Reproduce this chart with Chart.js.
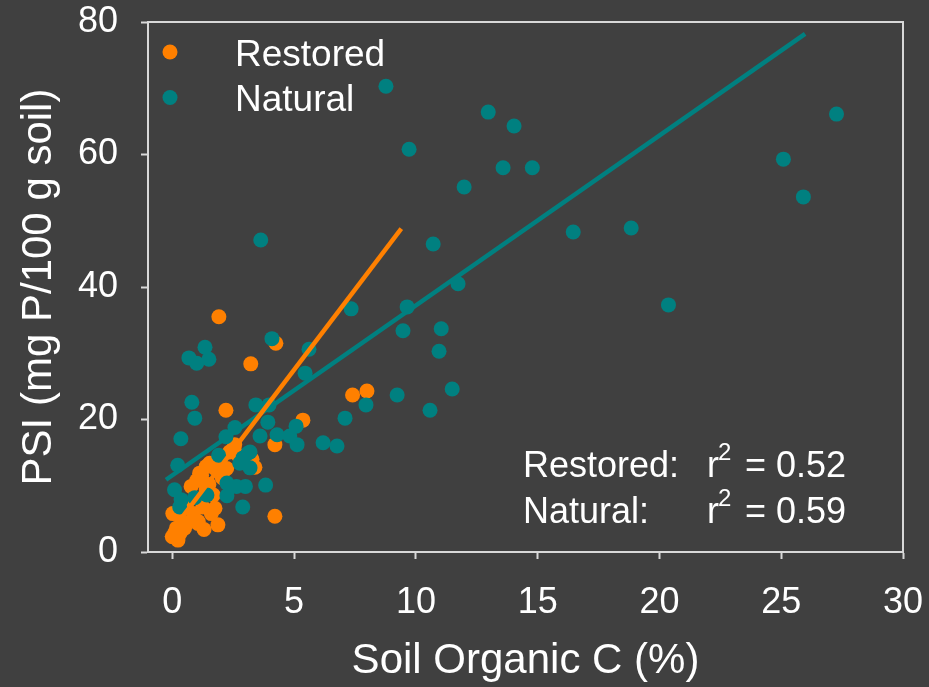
<!DOCTYPE html>
<html>
<head>
<meta charset="utf-8">
<script src="https://cdn.jsdelivr.net/npm/chart.js@4.4.1/dist/chart.umd.min.js"></script>
<style>
  html, body { margin: 0; padding: 0; background: #404040; }
  #wrap { width: 929px; height: 687px; }
</style>
</head>
<body>
<div id="wrap"><canvas id="c" width="929" height="687"></canvas></div>
<script>
// Soil organic carbon (%) vs phosphorus saturation index, natural wetlands
const naturalX = [8.77, 12.97, 14.03, 9.72, 13.58, 14.78, 11.98, 27.27, 25.09, 25.91,
  16.46, 18.84, 20.37, 10.71, 11.73, 9.64, 7.34, 9.47, 11.04, 10.95,
  11.49, 9.23, 10.58, 7.95, 7.09, 6.76, 3.63, 4.09, 1.34, 0.68,
  1.0, 1.5, 5.61, 5.45, 0.8, 0.92, 3.43, 3.97, 3.92, 5.08,
  0.35, 2.2, 2.57, 3.6, 4.3, 4.82, 5.12, 6.19, 0.22, 1.9,
  3.19, 2.77, 3.19, 2.9, 3.1, 2.24, 2.63, 3.0, 3.83, 2.24,
  2.89, 0.09, 0.36, 0.92, 1.42, 0.3];
const naturalY = [70.3, 66.4, 64.3, 60.8, 58.0, 58.0, 55.1, 66.1, 59.3, 53.6,
  48.3, 48.9, 37.3, 46.5, 40.5, 37.0, 36.7, 33.4, 33.7, 30.3,
  24.6, 23.7, 21.4, 22.2, 20.2, 16.0, 47.1, 32.2, 30.9, 29.3,
  28.5, 29.1, 30.6, 27.0, 22.6, 20.2, 22.2, 22.2, 19.6, 19.0,
  17.1, 17.4, 18.8, 17.5, 17.7, 17.5, 16.2, 16.5, 13.1, 14.6,
  15.1, 13.4, 12.7, 14.2, 14.9, 10.4, 9.9, 9.9, 10.1, 8.5,
  6.8, 9.4, 7.9, 8.2, 8.6, 6.8];

// Restored wetlands
const restoredX = [1.91, 4.25, 3.22, 2.2, 5.36, 7.4, 7.99, 4.21, 4.21, 3.39,
  3.27, 2.56, 2.35, 1.94, 1.53, 1.12, 0.77, 1.39, 1.75, 2.23,
  1.2, 1.39, 1.68, 1.75, 1.6, 1.87, 1.05, 0.86, 1.06, 0.58,
  0.5, 0.17, 0.02, 0.17, 0.31, 0.23, 0.0, 0.1, 1.0, 1.5,
  2.05, 0.55, 1.25, 0.4, 2.7, 1.3];
const restoredY = [35.5, 31.5, 28.4, 21.4, 19.9, 23.7, 24.3, 16.2, 5.4, 12.8,
  14.0, 16.2, 15.1, 13.9, 13.4, 11.9, 9.9, 12.9, 12.6, 12.6,
  11.6, 9.4, 8.6, 6.6, 5.8, 4.1, 4.3, 5.8, 4.6, 4.3,
  3.6, 5.8, 5.8, 3.6, 2.8, 1.8, 2.3, 2.9, 10.8, 10.2,
  11.2, 7.0, 6.8, 4.6, 14.6, 3.4];

// Linear fits: [intercept, slope] and the x span each line covers
const restoredFit = [3.3, 4.84];
const restoredFitSpan = [-0.25, 9.4];
const naturalFit = [11.57, 2.565];
const naturalFitSpan = [-0.26, 25.98];

const seriesNames = ['Restored', 'Natural'];
const r2Values = ['0.52', '0.59'];
const xTicks = [0, 5, 10, 15, 20, 25, 30];
const yTicks = [0, 20, 40, 60, 80];

const ORANGE = '#ff8000';
const TEAL = '#008080';
const AXIS = '#d9d9d9';
const FONT = "'Liberation Sans', Arial, Helvetica, sans-serif";

const toPoints = (xs, ys) => xs.map((x, i) => ({ x: x, y: ys[i] }));
const fitLine = (fit, span) => span.map(x => ({ x: x, y: fit[0] + fit[1] * x }));

const backdrop = {
  id: 'backdrop',
  beforeDraw(chart) {
    const ctx = chart.ctx;
    ctx.save();
    ctx.fillStyle = '#404040';
    ctx.fillRect(0, 0, chart.width, chart.height);
    ctx.restore();
  }
};

const frame = {
  id: 'frame',
  afterDraw(chart) {
    const { ctx, chartArea: a } = chart;
    ctx.save();
    ctx.strokeStyle = AXIS;
    ctx.lineWidth = 2;
    ctx.beginPath();
    ctx.moveTo(a.left, a.top);
    ctx.lineTo(a.right, a.top);
    ctx.lineTo(a.right, a.bottom);
    ctx.stroke();
    ctx.restore();
  }
};

// Legend in the upper-left corner of the plot
const cornerLegend = {
  id: 'cornerLegend',
  afterDraw(chart) {
    const { ctx, chartArea: a } = chart;
    const colors = [ORANGE, TEAL];
    ctx.save();
    ctx.font = '37px ' + FONT;
    ctx.textBaseline = 'alphabetic';
    ctx.textAlign = 'left';
    seriesNames.forEach((name, i) => {
      const cy = a.top + 30 + i * 45.5;
      ctx.fillStyle = colors[i];
      ctx.beginPath();
      ctx.arc(a.left + 22, cy, 7.5, 0, Math.PI * 2);
      ctx.fill();
      ctx.fillStyle = '#ffffff';
      ctx.fillText(name, a.left + 87, cy + 13.5);
    });
    ctx.restore();
  }
};

// r² statistics in the lower-right of the plot
const statsNote = {
  id: 'statsNote',
  afterDraw(chart) {
    const { ctx, chartArea: a } = chart;
    ctx.save();
    ctx.fillStyle = '#ffffff';
    ctx.textBaseline = 'alphabetic';
    ctx.textAlign = 'left';
    seriesNames.forEach((name, i) => {
      const base = a.bottom - 75 + i * 46;
      const x0 = a.left + 375;
      ctx.font = '36px ' + FONT;
      ctx.fillText(name + ':', x0, base);
      ctx.fillText('r', x0 + 184, base);
      ctx.fillText('= ' + r2Values[i], x0 + 222, base);
      ctx.font = '24px ' + FONT;
      ctx.fillText('2', x0 + 195, base - 17);
    });
    ctx.restore();
  }
};

new Chart(document.getElementById('c'), {
  type: 'scatter',
  data: {
    datasets: [
      {
        label: 'Restored fit',
        type: 'line',
        data: fitLine(restoredFit, restoredFitSpan),
        borderColor: ORANGE,
        borderWidth: 4.5,
        pointRadius: 0,
        fill: false,
        order: 0
      },
      {
        label: 'Natural fit',
        type: 'line',
        data: fitLine(naturalFit, naturalFitSpan),
        borderColor: TEAL,
        borderWidth: 4.5,
        pointRadius: 0,
        fill: false,
        order: 1
      },
      {
        label: 'Natural',
        data: toPoints(naturalX, naturalY),
        backgroundColor: TEAL,
        borderWidth: 0,
        pointRadius: 7.5,
        order: 2
      },
      {
        label: 'Restored',
        data: toPoints(restoredX, restoredY),
        backgroundColor: ORANGE,
        borderWidth: 0,
        pointRadius: 7.5,
        order: 3
      }
    ]
  },
  options: {
    responsive: false,
    animation: false,
    devicePixelRatio: 1,
    layout: { padding: { top: 22, right: 26, left: 0, bottom: 0 } },
    plugins: {
      legend: { display: false },
      tooltip: { enabled: false }
    },
    scales: {
      x: {
        type: 'linear',
        min: -1,
        max: 30,
        afterBuildTicks: s => { s.ticks = xTicks.map(v => ({ value: v })); },
        afterFit: s => { s.height = 135; s.paddingLeft = 0; s.paddingRight = 0; },
        grid: { drawOnChartArea: false, drawTicks: true, tickLength: 7, tickColor: AXIS, tickWidth: 2 },
        border: { color: AXIS, width: 2 },
        ticks: { color: '#ffffff', font: { family: FONT, size: 36 }, padding: 22, maxRotation: 0 },
        title: { display: true, text: 'Soil Organic C (%)', color: '#ffffff',
                 font: { family: FONT, size: 42 }, padding: { top: 0, bottom: 0 } }
      },
      y: {
        type: 'linear',
        min: 0,
        max: 80,
        afterBuildTicks: s => { s.ticks = yTicks.map(v => ({ value: v })); },
        afterFit: s => { s.width = 148; s.paddingTop = 0; s.paddingBottom = 0; },
        grid: { drawOnChartArea: false, drawTicks: true, tickLength: 7, tickColor: AXIS, tickWidth: 2 },
        border: { color: AXIS, width: 2 },
        ticks: { color: '#ffffff', font: { family: FONT, size: 36 }, padding: 23 },
        title: { display: true, text: 'PSI (mg P/100 g soil)', color: '#ffffff',
                 font: { family: FONT, size: 42 }, padding: { top: 14, bottom: 0 } }
      }
    }
  },
  plugins: [backdrop, frame, cornerLegend, statsNote]
});
</script>
</body>
</html>
